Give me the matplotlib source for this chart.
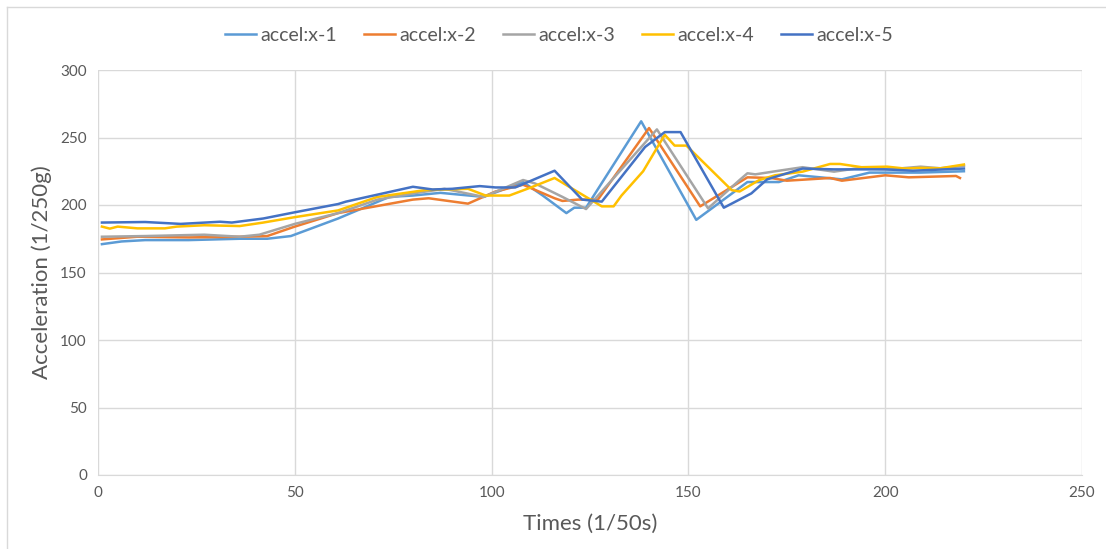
import matplotlib
matplotlib.use("Agg")
import matplotlib.pyplot as plt
from matplotlib.lines import Line2D

plt.rcParams["font.family"] = ["Lato", "DejaVu Sans"]

# values
x1 = [1, 6, 12, 23, 36, 43, 49, 61, 74, 80, 87, 98, 108, 113, 119, 121, 124,
      138, 152, 165, 173, 178, 189, 196, 209, 220]
y1 = [171, 173, 174, 174, 175, 175, 177, 190, 206, 207, 209, 206, 217, 207, 194,
      198, 198, 262, 189, 217, 217, 222, 219, 224, 224, 225]

x2 = [1, 10, 23, 36, 43, 50, 61, 80, 84, 94, 101, 108, 116, 118, 122, 127, 140,
      153, 165, 171, 175, 186, 189, 200, 206, 218, 219]
y2 = [174.5, 176.5, 176, 176.5, 177, 184, 194, 204, 205, 201, 210, 215, 205, 203,
      204, 204, 257, 199, 220.5, 220, 218, 220, 218, 222, 220.5, 221.5, 220]

x3 = [1, 12, 27, 36, 41, 50, 61, 71, 81, 88, 98, 108, 111, 118, 124, 142, 155,
      163, 165, 167, 173, 179, 187, 193, 201, 209, 214, 220]
y3 = [176.5, 177, 178, 176.5, 178, 186, 194, 204, 209, 212, 206, 218.5, 216, 206,
      197, 256, 197.5, 218.5, 223.5, 222.7, 225.4, 228, 224.7, 227.2, 226.4, 228.4,
      227.2, 229]

x4 = [1, 3, 5, 10, 17, 20, 27, 36, 42, 50, 61, 71, 83, 94, 98.5, 104.5, 110, 116,
      128, 131, 133, 138.5, 144, 146.5, 149.5, 161, 163, 168, 172, 179, 186, 188.5,
      194, 200.5, 205, 209, 214, 220]
y4 = [184, 182.5, 184, 182.7, 182.7, 184, 185, 184.4, 187, 191, 196, 206, 211, 212,
      207, 207, 213, 220, 199, 199, 207, 225, 252, 244, 244, 211, 210, 218.5, 222,
      224.7, 230.4, 230.4, 228, 228.4, 227, 227.5, 227.2, 230]

x5 = [1, 12, 21, 31, 34, 42, 50, 61, 63, 80, 85, 90, 97, 101, 106, 116, 123, 128,
      139, 144, 148, 159, 166, 170, 179, 187, 200, 207, 220]
y5 = [187, 187.4, 186, 187.6, 187, 190, 194.6, 200.7, 202.5, 213.5, 211.5, 212,
      214, 213, 213, 225.4, 204, 202.5, 243, 254, 254, 198, 208.6, 219, 227, 226.4,
      226.4, 225.4, 227]

labels = ["accel:x-1", "accel:x-2", "accel:x-3", "accel:x-4", "accel:x-5"]
colors = ["#5B9BD5", "#ED7D31", "#A5A5A5", "#FFC000", "#4472C4"]

text_col = "#595959"
grid_col = "#D9D9D9"

fig = plt.figure(figsize=(11.06, 5.49), dpi=100)
ax = fig.add_axes([98 / 1106, 74 / 549, (1082 - 98) / 1106, (475 - 70) / 549])

series = [(x1, y1), (x2, y2), (x3, y3), (x4, y4), (x5, y5)]
for (xs, ys), lab, c in zip(series, labels, colors):
    ax.plot(xs, ys, color=c, lw=1.8, label=lab, solid_joinstyle="round")

ax.set_xlim(0, 250)
ax.set_ylim(0, 300)
ax.set_xticks(range(0, 251, 50))
ax.set_yticks(range(0, 301, 50))
ax.grid(True, color=grid_col, lw=1)
ax.set_axisbelow(True)
for side in ["top", "right", "left"]:
    ax.spines[side].set_visible(False)
ax.spines["bottom"].set_color(grid_col)
ax.tick_params(length=0, labelsize=11, labelcolor=text_col, pad=8)

ax.set_xlabel("Times (1/50s)", fontsize=16, color=text_col, labelpad=10)
ax.set_ylabel("Acceleration (1/250g)", fontsize=16, color=text_col, labelpad=6)

fig.legend(*ax.get_legend_handles_labels(), loc="center",
           bbox_to_anchor=(559 / 1106, 1 - 35 / 549), ncol=5, frameon=False,
           fontsize=14, handlelength=1.6, handletextpad=0.2, columnspacing=1.4,
           labelcolor=text_col)

# outer chart border (left and top edges visible)
fig.add_artist(Line2D([7 / 1106, 7 / 1106], [0, 1 - 7 / 549],
                      transform=fig.transFigure, color=grid_col, lw=1))
fig.add_artist(Line2D([7 / 1106, 1], [1 - 7 / 549, 1 - 7 / 549],
                      transform=fig.transFigure, color=grid_col, lw=1))

fig.savefig("out.png", dpi=100)
